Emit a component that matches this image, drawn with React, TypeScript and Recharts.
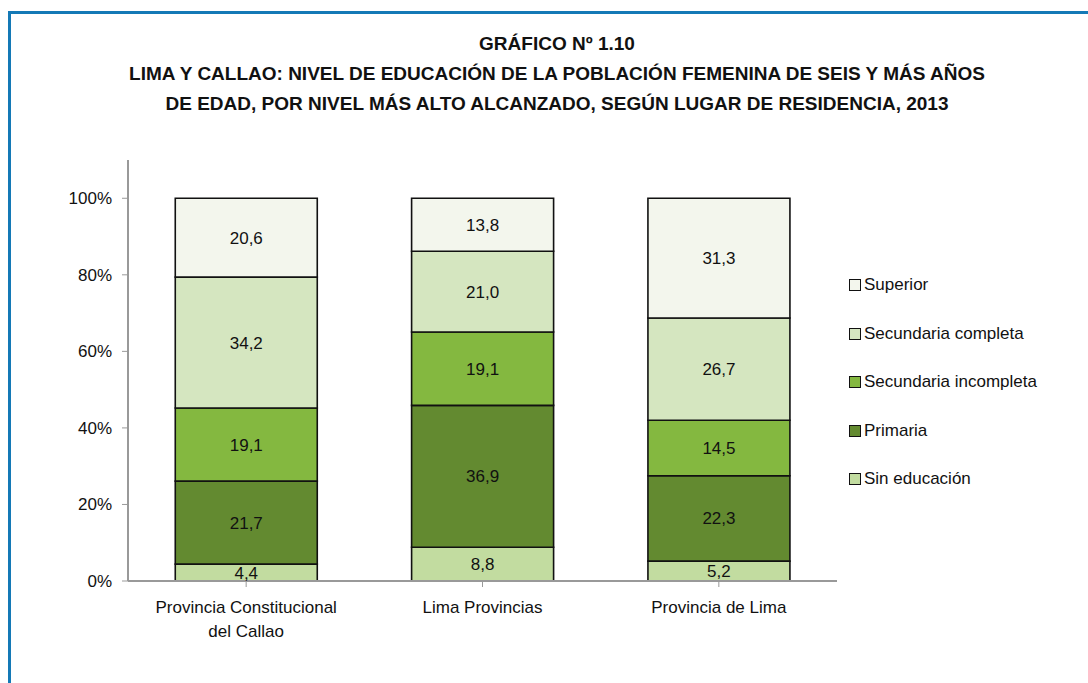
import { Bar, BarChart, LabelList, Legend, XAxis, YAxis } from 'recharts'

const CATEGORIES = ['Provincia Constitucional\ndel Callao', 'Lima Provincias', 'Provincia de Lima']
const SIN_EDUCACION = [4.4, 8.8, 5.2]
const PRIMARIA = [21.7, 36.9, 22.3]
const SEC_INCOMPLETA = [19.1, 19.1, 14.5]
const SEC_COMPLETA = [34.2, 21.0, 26.7]
const SUPERIOR = [20.6, 13.8, 31.3]
const Y_TICKS = [0, 0.2, 0.4, 0.6, 0.8, 1]

const SERIES = [
  { key: 'sin', name: 'Sin educación', color: '#c2dca0', values: SIN_EDUCACION },
  { key: 'pri', name: 'Primaria', color: '#638a30', values: PRIMARIA },
  { key: 'inc', name: 'Secundaria incompleta', color: '#84b840', values: SEC_INCOMPLETA },
  { key: 'com', name: 'Secundaria completa', color: '#d5e6c0', values: SEC_COMPLETA },
  { key: 'sup', name: 'Superior', color: '#f3f6ed', values: SUPERIOR },
]

// 100% stacked: each bar is scaled to its own total, labels keep the raw values
const data = CATEGORIES.map((name, i) => {
  const total = SERIES.reduce((acc, s) => acc + s.values[i], 0)
  const row: Record<string, string | number> = { name }
  SERIES.forEach((s) => {
    row[s.key] = s.values[i] / total
    row[`raw_${s.key}`] = s.values[i]
  })
  return row
})

const FONT = '"Liberation Sans Narrow", "Arial Narrow", "Liberation Sans", Arial, sans-serif'

const fmt = (v: unknown) => Number(v).toFixed(1).replace('.', ',')

function CategoryTick({ x, y, payload }: any) {
  const lines = String(payload.value).split('\n')
  return (
    <text x={x} y={y + 12} textAnchor="middle" fontSize={17} fill="#111" fontFamily={FONT}>
      {lines.map((l, i) => (
        <tspan key={i} x={x} dy={i === 0 ? 12 : 24}>
          {l}
        </tspan>
      ))}
    </text>
  )
}

function LegendBox() {
  return (
    <div style={{ fontFamily: FONT, fontSize: 17, color: '#111' }}>
      {[...SERIES].reverse().map((s) => (
        <div key={s.key} style={{ display: 'flex', alignItems: 'center', height: 48.5 }}>
          <span
            style={{
              width: 10,
              height: 10,
              border: '1.5px solid #111',
              background: s.color,
              marginRight: 3,
              display: 'inline-block',
            }}
          />
          {s.name}
        </div>
      ))}
    </div>
  )
}

export default function App() {
  return (
    <div style={{ position: 'absolute', left: 0, top: 0, width: 1088, height: 683, background: '#fff' }}>
      <div
        style={{
          position: 'absolute',
          left: 8,
          top: 11,
          width: 1120,
          height: 700,
          borderLeft: '3px solid #1479b6',
          borderTop: '3px solid #1479b6',
        }}
      />
      <div
        style={{
          position: 'absolute',
          left: 0,
          top: 29,
          width: 1114,
          textAlign: 'center',
          fontFamily: FONT,
          fontWeight: 'bold',
          fontSize: 19,
          lineHeight: '30px',
          color: '#111',
        }}
      >
        <div>GRÁFICO Nº 1.10</div>
        <div>LIMA Y CALLAO: NIVEL DE EDUCACIÓN DE LA POBLACIÓN FEMENINA DE SEIS Y MÁS AÑOS</div>
        <div>DE EDAD, POR NIVEL MÁS ALTO ALCANZADO, SEGÚN LUGAR DE RESIDENCIA, 2013</div>
      </div>
      <div style={{ position: 'absolute', left: 0, top: 0 }}>
        <BarChart
          width={1088}
          height={683}
          data={data}
          barCategoryGap="20%"
          margin={{ top: 160, right: 251, bottom: 72, left: 68 }}
        >
          <XAxis
            dataKey="name"
            height={30}
            tick={<CategoryTick />}
            tickLine={{ stroke: '#999' }}
            axisLine={{ stroke: '#999', strokeWidth: 2 }}
            tickSize={6}
            interval={0}
          />
          <YAxis
            width={60}
            domain={[0, 1.1]}
            ticks={Y_TICKS}
            allowDataOverflow
            tickFormatter={(v: number) => `${Math.round(v * 100)}%`}
            tick={{ fontSize: 17, fill: '#111', fontFamily: FONT }}
            tickLine={{ stroke: '#999' }}
            axisLine={{ stroke: '#999', strokeWidth: 2 }}
            tickSize={6}
            tickMargin={10}
          />
          <Legend
            layout="vertical"
            align="center"
            verticalAlign="middle"
            wrapperStyle={{ left: 849, top: 261, width: 230 }}
            content={<LegendBox />}
          />
          {SERIES.map((s) => (
            <Bar
              key={s.key}
              dataKey={s.key}
              name={s.name}
              stackId="a"
              fill={s.color}
              stroke="#111"
              strokeWidth={1.6}
              isAnimationActive={false}
            >
              <LabelList
                dataKey={`raw_${s.key}`}
                position="center"
                formatter={fmt}
                style={{ fontSize: 17, fill: '#111', fontFamily: FONT }}
              />
            </Bar>
          ))}
        </BarChart>
      </div>
    </div>
  )
}
